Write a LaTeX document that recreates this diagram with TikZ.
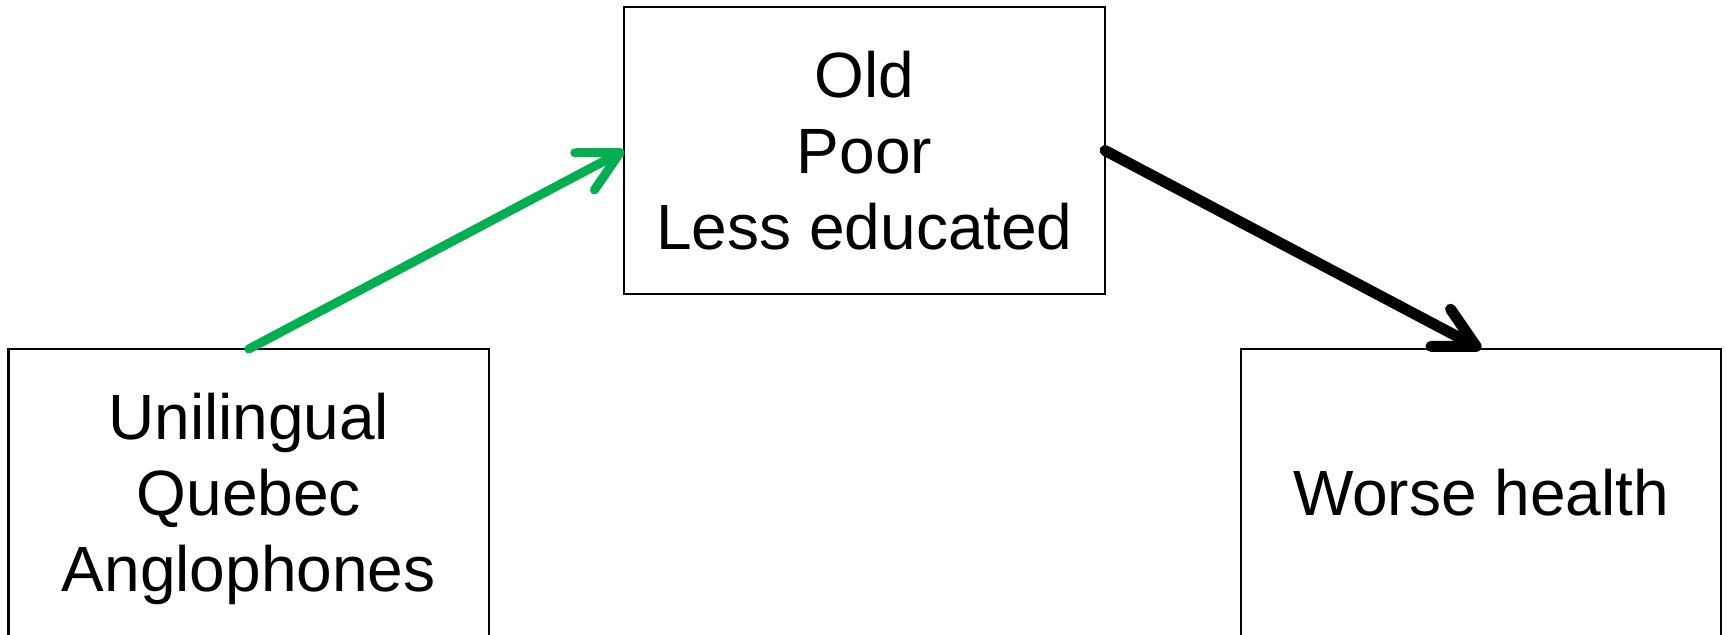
\documentclass[tikz,border=0pt]{standalone}
\usepackage{fontspec}
\setmainfont{Liberation Sans}
\usetikzlibrary{arrows.meta}
\definecolor{pathgreen}{RGB}{0,176,80}
\begin{document}
\begin{tikzpicture}[x=0.5pt,y=-0.5pt,
  factorbox/.style={draw=black, line width=1.3pt, inner sep=0pt, outer sep=0pt,
    minimum height=143.5pt, align=center,
    font=\fontsize{32pt}{38pt}\selectfont},
  link/.style={line cap=round,
    -{Straight Barb[length=20pt,width=21pt,round]}}]
  \useasboundingbox (0,0) rectangle (1727,634);
  % the three factors
  \node[factorbox, minimum width=240.5pt] (mid) at (864.5,150.5)
    {Old\\Poor\\Less educated};
  \node[factorbox, minimum width=240.25pt, text depth=0pt] (lang) at (248.75,492.5)
    {Unilingual\\Quebec\\Anglophones};
  \node[factorbox, minimum width=240pt] (health) at (1481,492.5)
    {Worse health};
  % pathways
  \draw[link, draw=pathgreen, line width=4.5pt] (lang.north) -- (mid.west);
  \draw[link, draw=black, line width=5.5pt] (mid.east) -- (health.north);
\end{tikzpicture}
\end{document}
